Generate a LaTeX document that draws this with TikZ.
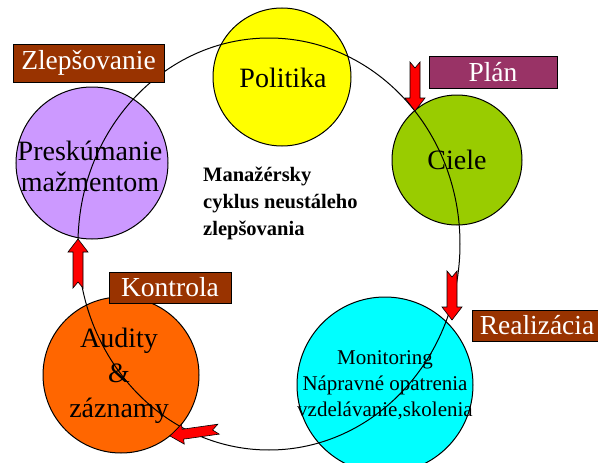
\documentclass[tikz,border=0pt]{standalone}
\usepackage{fontspec}
\setmainfont{Liberation Serif}
\definecolor{cyell}{HTML}{FFFF00}
\definecolor{cgreen}{HTML}{99CC00}
\definecolor{cpurp}{HTML}{CC99FF}
\definecolor{corange}{HTML}{FF6600}
\definecolor{ccyan}{HTML}{00FFFF}
\definecolor{cbrown}{HTML}{993300}
\definecolor{cplum}{HTML}{993366}
\definecolor{cred}{HTML}{FF0000}
\tikzset{
  circ/.style={circle, draw=black, line width=1pt, inner sep=0pt},
  bigtxt/.style={align=center, font=\fontsize{28}{31}\selectfont},
  lbl/.style={rectangle, draw=black, line width=0.8pt, text=white, inner sep=0pt,
    font=\fontsize{27.5}{30}\selectfont},
  cycleline/.style={draw=black, line width=1pt},
  blockarrow/.pic={
    \draw[fill=cred, draw=black, line width=0.6pt, line join=miter]
      (0,0) -- (-13,-10) -- (-13,-5) -- (-49,-5) -- (-43,0) -- (-49,5)
      -- (-13,5) -- (-13,10) -- cycle;
  }
}
\begin{document}
\begin{tikzpicture}[x=1pt,y=-1pt]
\useasboundingbox (0,0) rectangle (598,463);
\clip (0,0) rectangle (598,463);
% circles
\node[circ, fill=cyell, minimum size=138pt] (pol) at (282,77) {};
\node[circ, fill=cgreen, minimum size=130pt] (ciel) at (457,160) {};
\node[circ, fill=cpurp, minimum size=152pt] (pres) at (92,163) {};
\node[circ, fill=corange, minimum size=156pt] (aud) at (121,375) {};
\node[circ, fill=ccyan, minimum size=176pt] (mon) at (385,385) {};
% circle texts
\node[bigtxt] (tpol) at (283,78) {Politika};
\node[bigtxt] (tciel) at (457,160) {Ciele};
\node[bigtxt] (tpres) at (90,166) {Preskúmanie\\mažmentom};
\node[align=center, font=\fontsize{28}{35}\selectfont] (taud) at (119,376) {Audity\\\&\\záznamy};
\node[align=center, font=\fontsize{21}{26}\selectfont] (tmon) at (385,385) {Monitoring\\Nápravné opatrenia\\vzdelávanie,skolenia};
% big cycle
\draw[cycleline] (269,244) ellipse [x radius=191pt, y radius=206pt];
% centre text
\node[align=left, anchor=north west, inner sep=0pt, font=\bfseries\fontsize{20.5}{27}\selectfont] (ctr) at (203,167) {Manažérsky\\cyklus neustáleho\\zlepšovania};
% arrows
\pic[rotate=-90] (aplan) at (415,111) {blockarrow};
\pic[rotate=-90] (areal) at (452,320) {blockarrow};
\pic[rotate=90] (akont) at (78,239) {blockarrow};
\pic[rotate=188] (azlep) at (170,436) {blockarrow};
% labels
\node[lbl, fill=cbrown, minimum width=151pt, minimum height=38pt] (lzlep) at (88.5,63) {Zlepšovanie};
\node[lbl, fill=cplum, minimum width=128pt, minimum height=32pt] (lplan) at (493,72) {Plán};
\node[lbl, fill=cbrown, minimum width=122pt, minimum height=31pt] (lkont) at (170,287.5) {Kontrola};
\node[lbl, fill=cbrown, minimum width=130pt, minimum height=31pt] (lreal) at (537,325.5) {Realizácia};
\end{tikzpicture}
\end{document}
